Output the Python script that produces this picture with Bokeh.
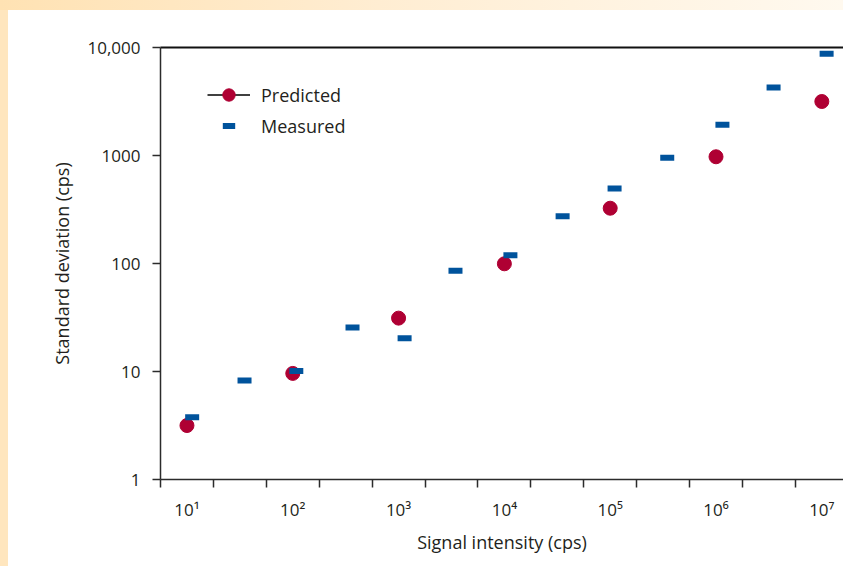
from bokeh.plotting import figure
from bokeh.models import FixedTicker, LogAxis, Legend, LegendItem, Range1d
from bokeh.embed import file_html
from bokeh.resources import INLINE

# ---- data ----
predicted_x = [10, 100, 1000, 1e4, 1e5, 1e6, 1e7]
predicted_sd = [3.16, 9.6, 31.2, 99.4, 325, 973, 3162]

measured_x = [11.2, 35.0, 108, 367, 1140, 3450, 11400, 35500, 110000,
              346000, 1.15e6, 3.5e6, 1.11e7]
measured_sd = [3.78, 8.25, 10.1, 25.5, 20.3, 85.6, 119, 274, 495,
               953, 1924, 4266, 8750]

x_label_ticks = [10, 100, 1000, 1e4, 1e5, 1e6, 1e7]
x_tick_labels = ["10¹", "10²", "10³", "10⁴", "10⁵", "10⁶", "10⁷"]
x_tick_marks = [5.623, 17.78, 56.23, 177.8, 562.3, 1778, 5623, 17783,
                56234, 177828, 562341, 1778279, 5623413]
y_ticks = [1, 10, 100, 1000, 10000]
y_tick_labels = ["1", "10", "100", "1000", "10,000"]

FONT = "Open Sans"
TXT = "#231F20"
AX = "#2B2B2B"
RED = "#AF0033"
BLUE = "#00539C"

p = figure(width=843, height=566, x_axis_type="log", y_axis_type="log",
           x_range=Range1d(5.623, 1.603e7), y_range=Range1d(1, 10000),
           min_border_left=160, min_border_right=0, min_border_top=47,
           min_border_bottom=87, output_backend="svg", toolbar_location=None,
           border_fill_color=None, background_fill_color="white",
           outline_line_color=None)

p.styles = {
    "background": ("linear-gradient(to right, #FFE2B3 0%, #FFEDD2 45%, #FFF9EF 100%) "
                   "left top / 100% 10px no-repeat, "
                   "linear-gradient(#FFE6BE, #FFE6BE) left top / 8px 100% no-repeat, "
                   "#FFFFFF"),
}

p.xgrid.visible = False
p.ygrid.visible = False

# y axis
ya = p.yaxis[0]
ya.ticker = FixedTicker(ticks=y_ticks, minor_ticks=[])
ya.major_label_overrides = {t: l for t, l in zip(y_ticks, y_tick_labels)}
ya.major_tick_out = 8
ya.major_tick_in = 0
ya.major_tick_line_color = AX
ya.major_tick_line_width = 1.5
ya.axis_line_color = AX
ya.axis_line_width = 1.5
ya.major_label_standoff = 12
ya.major_label_text_font = FONT
ya.major_label_text_font_size = "17px"
ya.major_label_text_color = TXT
ya.axis_label = "Standard deviation (cps)"
ya.axis_label_text_font = FONT
ya.axis_label_text_font_size = "18px"
ya.axis_label_text_font_style = "normal"
ya.axis_label_text_color = TXT
ya.axis_label_standoff = 10

# x axis
xa = p.xaxis[0]
xa.ticker = FixedTicker(ticks=x_label_ticks, minor_ticks=x_tick_marks)
xa.major_label_overrides = {t: l for t, l in zip(x_label_ticks, x_tick_labels)}
xa.major_tick_out = 0
xa.major_tick_in = 0
xa.minor_tick_out = 8
xa.minor_tick_in = 0
xa.minor_tick_line_color = AX
xa.minor_tick_line_width = 1.5
xa.axis_line_color = AX
xa.axis_line_width = 1.5
xa.major_label_standoff = 10
xa.major_label_text_font = FONT
xa.major_label_text_font_size = "17px"
xa.major_label_text_color = TXT
xa.axis_label = "Signal intensity (cps)"
xa.axis_label_text_font = FONT
xa.axis_label_text_font_size = "18px"
xa.axis_label_text_font_style = "normal"
xa.axis_label_text_color = TXT
xa.axis_label_standoff = 6

# top line
top = LogAxis(ticker=FixedTicker(ticks=[], minor_ticks=[]),
              axis_line_color="#111111", axis_line_width=2,
              major_label_text_font_size="0px")
p.add_layout(top, "above")

# glyphs (legend-only line sits outside the visible ranges)
leg_line = p.line(x=[1, 2], y=[0.1, 0.1], line_color="black", line_width=1.5)
pred = p.scatter(predicted_x, predicted_sd, marker="circle", size=14,
                 fill_color=RED, line_color=RED)
meas = p.scatter(measured_x, measured_sd, marker="dash", size=14,
                 line_color=BLUE, line_width=6, line_cap="butt")

legend = Legend(items=[LegendItem(label="Predicted", renderers=[leg_line, pred]),
                       LegendItem(label="Measured", renderers=[meas])],
                location=(47, 338), orientation="vertical",
                glyph_width=43, glyph_height=31, spacing=0, padding=0,
                margin=0, label_standoff=11, border_line_color=None,
                background_fill_alpha=0, label_text_font=FONT,
                label_text_font_size="18px", label_text_color=TXT)
p.add_layout(legend)

open("out.html", "w").write(file_html(p, INLINE))
